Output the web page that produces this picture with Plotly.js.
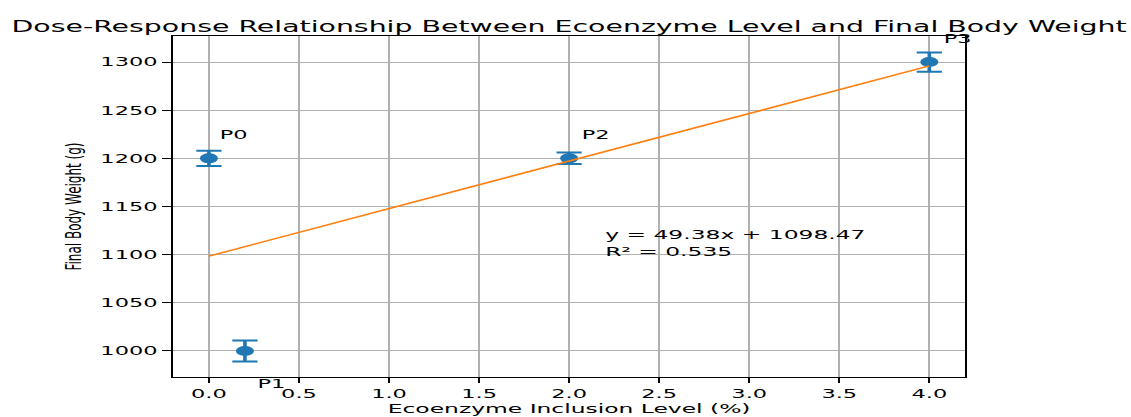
<!DOCTYPE html>
<html>
<head>
<meta charset="utf-8">
<script src="https://cdn.plot.ly/plotly-3.0.1.min.js"></script>
<style>
  html, body { margin: 0; padding: 0; background: #fff; }
  #wrap { width: 1131px; height: 417px; overflow: hidden; }
  #plot { width: 628px; height: 417px; transform: scaleX(1.8010); transform-origin: 0 0; }
</style>
</head>
<body>
<div id="wrap"><div id="plot"></div></div>
<script>
// Data
const levels = [0, 0.2, 2, 4];
const weights = [1200, 1000, 1200, 1300];
const errors = [8, 11, 6, 10];
const pointLabels = ['P0', 'P1', 'P2', 'P3'];
const xTickVals = [0, 0.5, 1, 1.5, 2, 2.5, 3, 3.5, 4];
const yTickVals = [1000, 1050, 1100, 1150, 1200, 1250, 1300];

// Linear regression
const n = levels.length;
const mx = levels.reduce((a, b) => a + b, 0) / n;
const my = weights.reduce((a, b) => a + b, 0) / n;
let sxx = 0, sxy = 0, sst = 0;
for (let i = 0; i < n; i++) {
  sxx += (levels[i] - mx) ** 2;
  sxy += (levels[i] - mx) * (weights[i] - my);
  sst += (weights[i] - my) ** 2;
}
const slope = sxy / sxx;
const intercept = my - slope * mx;
let sse = 0;
for (let i = 0; i < n; i++) sse += (weights[i] - (slope * levels[i] + intercept)) ** 2;
const r2 = 1 - sse / sst;
const xmin = Math.min(...levels), xmax = Math.max(...levels);
const fitX = [xmin, xmax];
const fitY = fitX.map(v => slope * v + intercept);

const FONT = 'DejaVu Sans, sans-serif';
const blue = '#1f77b4';

const traces = [
  {
    x: levels, y: weights, type: 'scatter', mode: 'markers',
    marker: { color: blue, size: 10 },
    error_y: { type: 'data', array: errors, visible: true, color: blue, thickness: 2, width: 7 },
    showlegend: false, hoverinfo: 'skip'
  },
  {
    x: fitX, y: fitY, type: 'scatter', mode: 'lines',
    line: { color: '#ff7f0e', width: 1.5 },
    showlegend: false, hoverinfo: 'skip'
  }
];

const labelShifts = [[4, 24], [5, -33], [5, 24], [6, 24]];
const annotations = pointLabels.map((t, i) => ({
  x: levels[i], y: weights[i], xref: 'x', yref: 'y',
  text: t, showarrow: false, xanchor: 'left', yanchor: 'middle',
  xshift: labelShifts[i][0], yshift: labelShifts[i][1],
  font: { family: FONT, size: 12.5, color: '#000' }
}));
annotations.push({
  x: 2.2, y: 1100, xref: 'x', yref: 'y',
  text: 'y = ' + slope.toFixed(2) + 'x + ' + intercept.toFixed(2) + '<br>R² = ' + r2.toFixed(3),
  showarrow: false, xanchor: 'left', yanchor: 'bottom', align: 'left',
  xshift: -2, yshift: -6,
  font: { family: FONT, size: 13, color: '#000' }
});

const axisCommon = {
  showline: true, linecolor: '#000', linewidth: 1, mirror: true,
  ticks: 'outside', ticklen: 5, tickwidth: 1, tickcolor: '#000',
  showgrid: true, gridcolor: '#b0b0b0', gridwidth: 1,
  zeroline: false,
  tickfont: { family: FONT, size: 12.5, color: '#000' }
};

const layout = {
  width: 628, height: 417,
  paper_bgcolor: '#fff', plot_bgcolor: '#fff',
  margin: { l: 96, r: 92, t: 36, b: 40, pad: 0 },
  title: {
    text: 'Dose-Response Relationship Between Ecoenzyme Level and Final Body Weight',
    font: { family: FONT, size: 15.75, color: '#000' },
    x: 0.5, xref: 'paper', xanchor: 'center',
    y: 1 - 26 / 417, yref: 'container', yanchor: 'middle'
  },
  xaxis: Object.assign({}, axisCommon, {
    range: [-0.2, 4.2], tickvals: xTickVals, tickformat: '.1f',
    title: { text: 'Ecoenzyme Inclusion Level (%)', font: { family: FONT, size: 13, color: '#000' }, standoff: 2 }
  }),
  yaxis: Object.assign({}, axisCommon, {
    range: [973, 1327], tickvals: yTickVals,
    title: { text: 'Final Body Weight (g)', font: { family: FONT, size: 12, color: '#000' }, standoff: 7 }
  }),
  annotations: annotations
};

Plotly.newPlot('plot', traces, layout, { displayModeBar: false, staticPlot: true, responsive: false });
</script>
</body>
</html>
